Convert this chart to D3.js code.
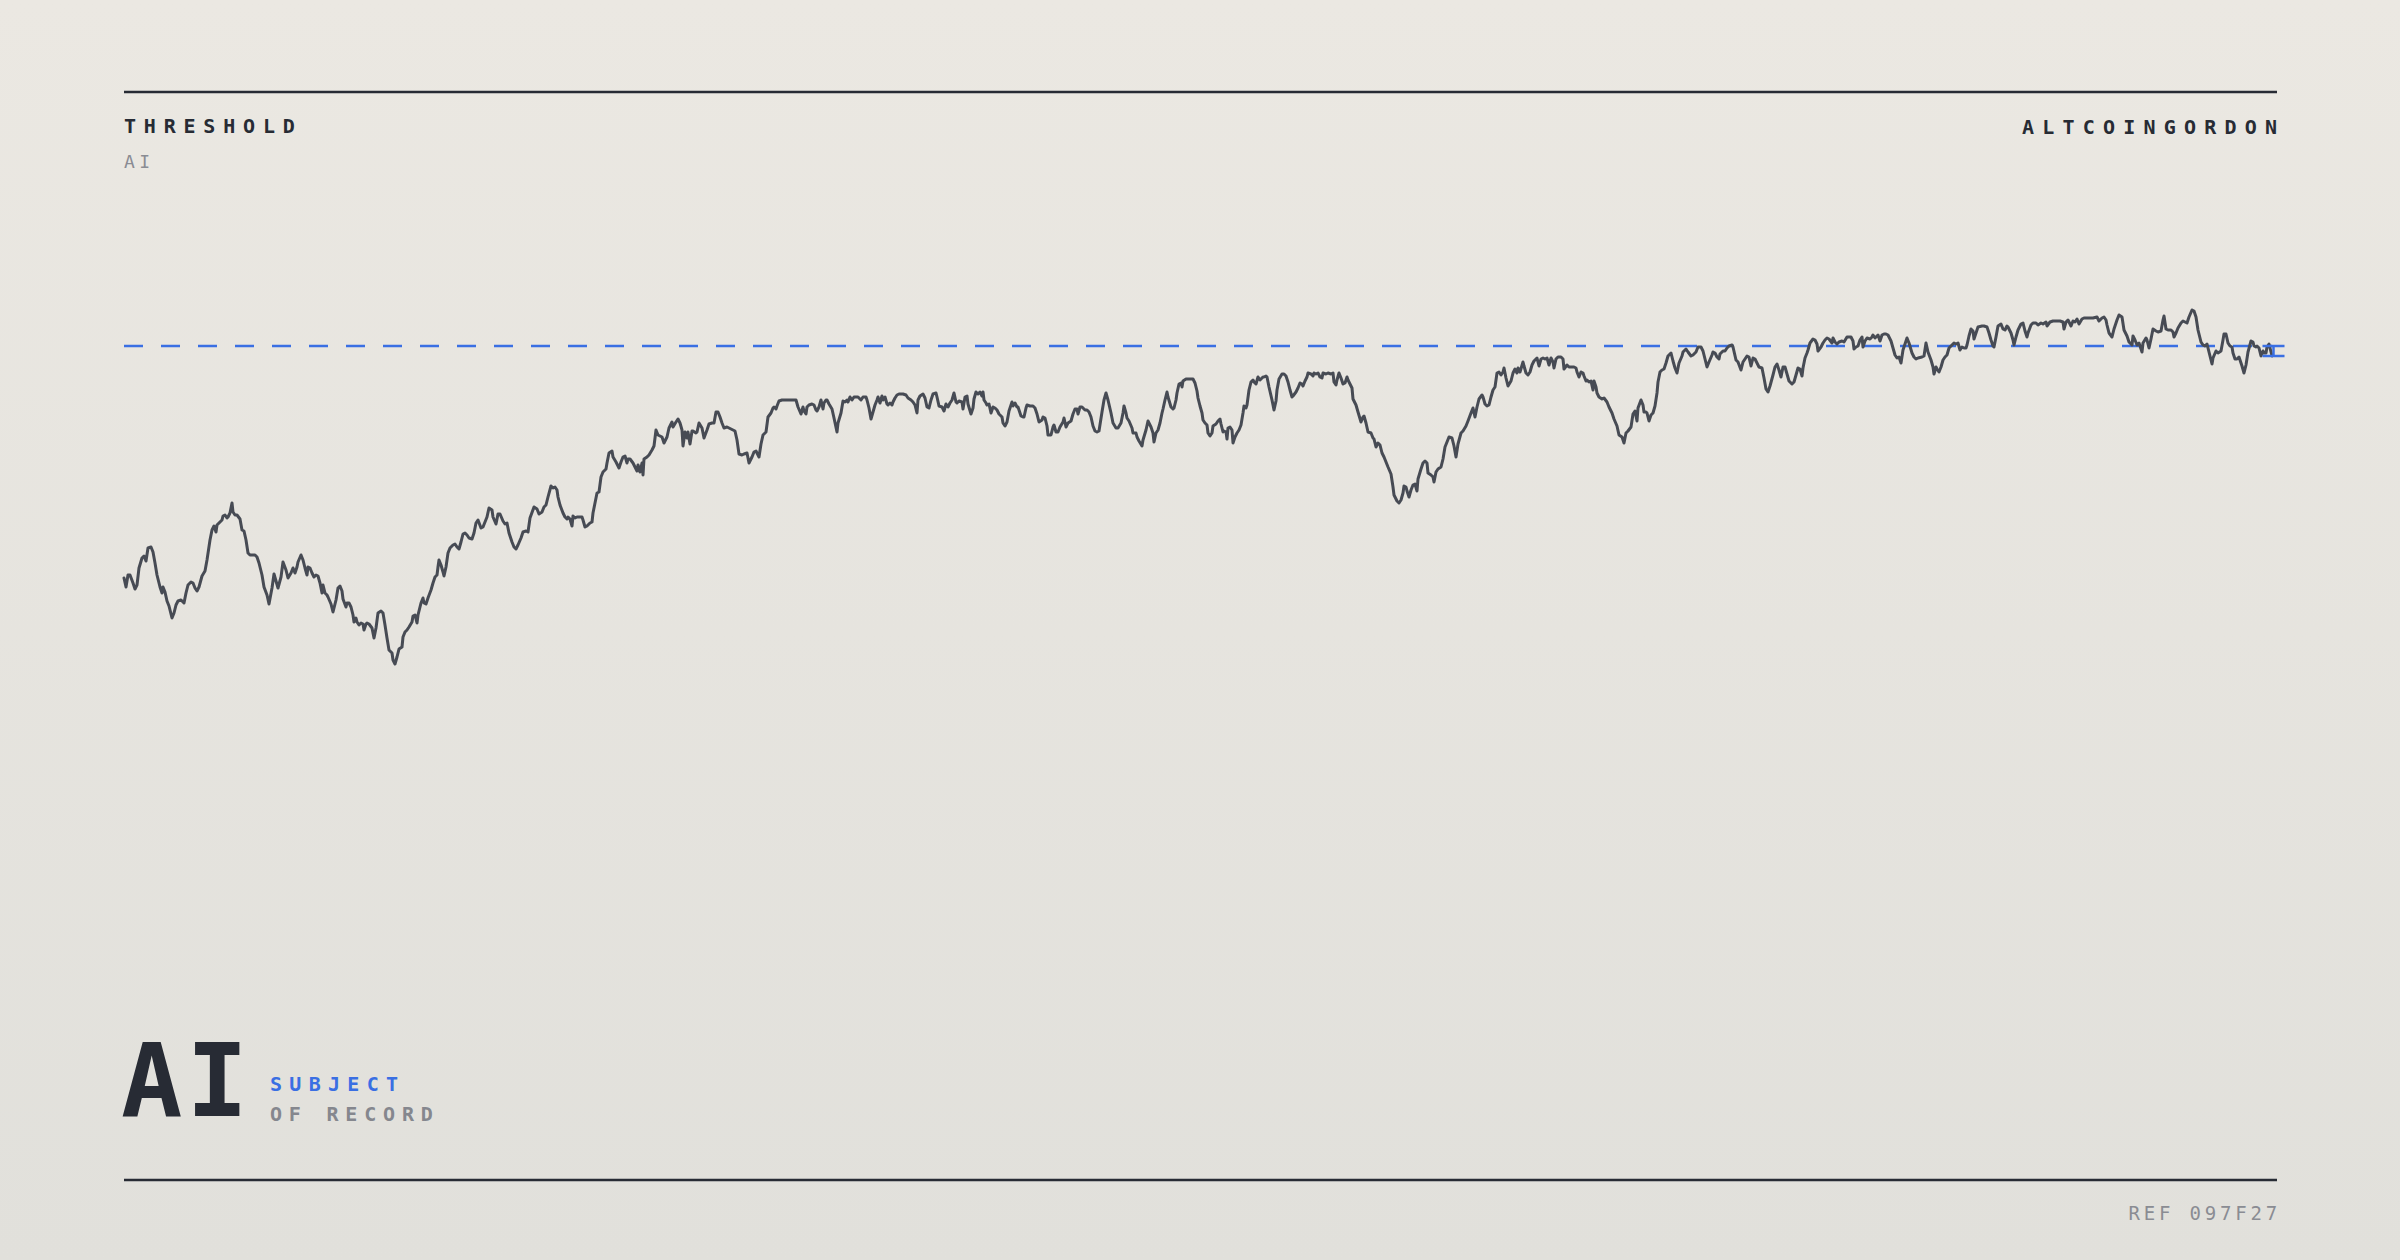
<!DOCTYPE html>
<html>
<head>
<meta charset="utf-8">
<script src="https://cdn.jsdelivr.net/npm/d3@7"></script>
<style>
  html, body { margin: 0; padding: 0; width: 2400px; height: 1260px; overflow: hidden; }
  svg { display: block; }
  text { font-family: "DejaVu Sans Mono", "Liberation Mono", monospace; }
</style>
</head>
<body>
<script>
// ---- data ----
const titleLeft = "THRESHOLD";
const subtitleLeft = "AI";
const titleRight = "ALTCOINGORDON";
const bigLabel = "AI";
const tagLines = ["SUBJECT", "OF RECORD"];
const refLabel = "REF 097F27";
const threshold = 354;
// [session, index value]
const readings = [
[0,122],[2,113],[4,125],[6,125],[9,117],[11,111],[13,115],[15,132],[18,142],[20,144],[22,139],[24,152],[27,153],[29,148],[31,137],[33,125],[36,113],[38,107],[39,113],[41,108],[43,99],[45,94],[48,82],[50,87],[52,95],[54,99],[57,100],[59,98],[60,97],[62,107],[64,115],[67,118],[69,117],[71,112],[73,109],[75,113],[78,124],[81,129],[83,140],[86,160],[88,170],[90,174],[92,168],[93,175],[96,178],[98,180],[99,184],[101,185],[103,182],[104,183],[106,187],[108,197],[109,188],[111,185],[113,185],[116,181],[118,170],[120,169],[122,160],[124,147],[126,145],[129,145],[131,145],[133,143],[135,137],[138,125],[140,113],[143,105],[145,96],[148,112],[150,126],[152,119],[154,112],[157,123],[159,138],[162,130],[164,122],[167,127],[169,132],[171,127],[173,133],[174,138],[177,145],[179,140],[181,132],[183,125],[184,133],[186,132],[188,127],[190,123],[192,125],[194,124],[196,117],[198,107],[199,115],[201,107],[203,105],[204,103],[207,96],[209,88],[212,100],[214,112],[216,114],[218,109],[219,101],[222,93],[223,97],[225,97],[227,93],[229,85],[230,78],[232,82],[233,78],[235,75],[237,77],[239,76],[240,70],[242,76],[243,77],[245,76],[248,72],[250,62],[252,72],[254,87],[257,89],[259,87],[261,75],[263,62],[265,50],[268,47],[269,40],[271,36],[273,43],[275,51],[278,53],[279,63],[281,68],[283,70],[285,73],[288,78],[289,84],[291,85],[293,77],[294,85],[297,97],[299,102],[300,97],[302,96],[304,102],[307,110],[309,117],[311,123],[313,125],[314,133],[315,140],[317,135],[319,128],[320,124],[322,133],[324,147],[326,152],[329,155],[331,156],[333,153],[335,151],[337,158],[339,166],[341,167],[343,165],[345,162],[348,161],[350,167],[352,177],[354,180],[357,172],[359,173],[361,178],[363,183],[365,192],[368,190],[369,183],[372,176],[374,186],[376,186],[379,179],[381,176],[383,177],[385,167],[388,158],[390,153],[392,151],[394,155],[397,162],[399,168],[402,169],[404,168],[406,182],
[410,193],[413,191],[415,186],[418,188],[420,193],[422,195],[424,203],[427,214],[429,212],[431,213],[433,210],[434,203],[436,195],[439,187],[441,183],[443,181],[444,183],[446,181],[448,174],[449,184],[451,182],[453,183],[456,183],[458,183],[459,180],[461,173],[463,174],[466,177],[468,178],[469,187],[471,197],[473,207],[475,208],[477,223],[479,228],[482,231],[483,237],[485,247],[488,249],[489,243],[492,238],[495,232],[497,238],[499,243],[501,244],[503,237],[504,241],[506,241],[509,237],[511,233],[513,229],[514,235],[516,228],[518,237],[519,225],[520,241],[523,243],[525,245],[528,250],[530,254],[532,270],[534,265],[538,263],[540,257],[543,263],[545,272],[548,278],[549,273],[552,278],[554,281],[556,277],[558,270],[559,254],[561,268],[563,262],[564,268],[566,256],[568,269],[569,269],[572,267],[573,268],[575,277],[578,272],[580,262],[583,270],[585,276],[588,277],[590,277],[592,288],[594,288],[596,283],[598,277],[600,272],[603,273],[605,272],[609,270],[611,269],[613,260],[615,246],[618,245],[620,246],[623,247],[625,237],[628,243],[630,248],[632,249],[633,247],[635,243],[637,256],[639,265],[642,268],[644,283],[647,287],[649,292],[650,293],[652,291],[653,294],[655,299],[658,300],[663,300],[668,300],[672,300],[674,293],[677,286],[679,293],[680,289],[682,286],[683,293],[685,295],[688,296],[690,295],[692,290],[693,289],[695,293],[697,300],[699,291],[700,297],[702,300],[703,300],[705,296],[708,291],[710,282],[713,268],[714,277],[717,287],[719,299],[721,298],[723,300],[724,298],[726,303],[728,300],[730,303],[734,303],[737,300],[739,303],[742,303],[743,300],[745,292],[747,281],[749,288],[751,295],[753,300],[754,303],[756,297],[758,304],[759,300],[761,303],[763,296],[764,295],[766,297],[768,295],[769,298],[771,302],[773,305],[775,306],[779,306],[782,305],[784,302],[787,300],[789,298],[791,295],[793,287],[794,300],[796,304],
[799,306],[801,302],[803,293],[805,292],[807,300],[809,306],[812,307],[813,303],[815,294],[818,293],[820,289],[822,296],[824,293],[826,297],[828,300],[830,307],[832,298],[833,297],[835,299],[838,298],[839,291],[841,303],[843,304],[844,296],[847,286],[849,292],[850,301],[852,308],[854,306],[856,308],[858,304],[859,308],[860,300],[862,297],[863,295],[865,296],[867,287],[869,293],[871,292],[873,290],[875,286],[878,283],[879,277],[881,274],[883,278],[885,289],[888,298],[889,294],[891,297],[893,293],[894,293],[897,284],[899,283],[900,283],[902,292],[903,295],[906,294],[909,294],[911,292],[913,286],[915,278],[918,280],[919,283],[921,282],[923,274],[924,265],[927,265],[929,273],[930,275],[932,268],[934,268],[936,273],[939,278],[940,282],[942,273],[944,277],[947,279],[949,286],[951,291],[953,291],[954,286],[956,293],[958,293],[959,292],[961,290],[963,290],[965,288],[967,283],[969,274],[971,269],[973,268],[975,269],[978,288],[980,300],[982,307],[984,300],[987,287],[989,277],[992,272],[994,272],[997,277],[999,287],[1000,294],[1002,287],[1003,282],[1005,279],[1008,272],[1009,267],[1012,267],[1013,263],[1015,259],[1018,254],[1019,260],[1022,270],[1024,279],[1027,273],[1029,267],[1030,258],[1032,267],[1034,270],[1036,277],[1038,287],[1039,291],[1041,300],[1043,308],[1044,303],[1047,293],[1049,291],[1050,292],[1052,300],[1053,307],[1055,316],[1057,317],[1058,313],[1059,319],[1062,321],[1066,321],[1069,321],[1071,317],[1073,309],[1074,302],[1076,294],[1078,287],[1079,280],[1081,277],[1083,275],[1084,267],[1086,264],[1088,267],[1089,274],[1092,276],[1094,279],[1096,281],[1097,276],[1099,268],[1100,269],[1102,268],[1103,261],[1104,272],[1106,273],[1108,270],[1109,257],[1111,263],[1113,267],[1115,270],[1117,275],[1119,287],[1120,294],[1122,292],[1123,295],[1125,310],[1127,318],[1129,320],[1130,318],[1132,316],[1134,323],[1136,320],[1139,323],[1140,323],[1142,324],[1143,323],[1145,313],[1148,300],[1150,290],[1152,299],[1153,310],[1155,321],[1158,326],[1160,326],[1162,324],[1164,318],[1166,310],[1168,303],[1169,304],[1172,308],[1174,312],[1176,317],[1178,316],[1179,314],[1181,319],[1183,323],[1184,327],[1187,326],[1189,324],[1190,327],[1192,326],[1194,327],[1196,323],
[1198,322],[1199,327],[1202,326],[1204,327],[1207,326],[1209,327],[1210,318],[1212,315],[1213,320],[1215,327],[1217,322],[1219,316],[1221,317],[1223,323],[1224,320],[1226,316],[1228,312],[1229,301],[1232,295],[1234,288],[1237,278],[1239,283],[1240,284],[1242,277],[1244,268],[1247,267],[1249,262],[1250,261],[1252,253],[1254,257],[1256,255],[1258,247],[1260,243],[1262,238],[1264,233],[1267,226],[1269,213],[1270,205],[1273,199],[1275,197],[1277,200],[1279,207],[1280,214],[1282,213],[1283,209],[1285,203],[1287,210],[1289,215],[1291,216],[1293,209],[1294,221],[1297,231],[1299,237],[1301,239],[1303,237],[1304,227],[1307,225],[1309,223],[1310,218],[1312,228],[1314,231],[1317,233],[1319,241],[1321,253],[1323,258],[1325,263],[1328,262],[1330,254],[1332,243],[1334,256],[1337,267],[1339,269],[1342,274],[1344,279],[1347,287],[1349,292],[1351,283],[1353,293],[1355,301],[1358,305],[1359,303],[1361,296],[1363,294],[1365,295],[1367,303],[1369,310],[1371,313],[1373,327],[1375,328],[1377,325],[1379,328],[1380,332],[1382,322],[1384,314],[1387,319],[1389,327],[1391,331],[1393,327],[1394,332],[1396,328],[1399,338],[1400,334],[1402,327],[1404,325],[1406,328],[1408,335],[1410,339],[1413,342],[1415,334],[1417,341],[1419,342],[1421,341],[1423,342],[1425,335],[1427,342],[1429,338],[1430,332],[1432,341],[1434,343],[1437,343],[1439,341],[1440,331],[1443,335],[1445,333],[1448,333],[1450,333],[1452,332],[1453,328],[1455,323],[1457,328],[1459,327],[1460,324],[1462,319],[1463,320],[1465,318],[1467,319],[1469,310],[1470,319],[1472,313],[1473,307],[1475,303],[1478,301],[1480,302],[1483,298],[1485,293],[1488,287],[1490,281],[1493,274],[1495,265],[1498,263],[1500,257],[1502,267],[1504,269],[1507,273],[1509,286],[1511,289],[1513,279],[1514,292],[1517,300],[1519,295],[1520,288],[1522,288],[1523,287],[1525,279],[1527,285],[1529,287],[1531,294],[1533,307],[1534,318],[1536,328],[1538,330],[1540,331],[1542,337],[1544,344],[1547,347],[1549,339],[1551,332],[1553,327],[1555,337],[1558,344],[1559,348],[1562,351],[1564,348],[1567,344],[1569,345],[1572,348],[1574,353],[1577,353],[1579,349],[1581,341],[1583,333],[1585,338],[1588,345],[1589,348],[1591,347],[1593,343],[1595,341],
[1596,346],[1599,349],[1601,349],[1603,352],[1605,354],[1608,355],[1609,353],[1612,340],[1614,338],[1617,330],[1619,338],[1621,341],[1623,344],[1625,343],[1627,334],[1629,342],[1631,341],[1633,337],[1635,333],[1638,332],[1640,322],[1642,311],[1644,308],[1646,314],[1649,325],[1651,333],[1653,336],[1655,330],[1657,323],[1659,333],[1661,333],[1663,326],[1665,319],[1668,316],[1670,318],[1672,325],[1674,332],[1676,331],[1678,324],[1679,332],[1681,342],[1683,347],[1684,350],[1686,357],[1689,361],[1691,360],[1693,356],[1694,349],[1697,353],[1699,357],[1701,360],[1703,362],[1705,361],[1708,357],[1709,362],[1711,358],[1713,356],[1715,358],[1718,359],[1720,358],[1723,363],[1724,363],[1727,363],[1729,359],[1730,351],[1732,353],[1734,354],[1736,360],[1738,363],[1739,353],[1741,359],[1743,362],[1746,361],[1748,363],[1749,365],[1751,362],[1753,364],[1754,365],[1756,359],[1758,365],[1760,366],[1762,366],[1764,365],[1767,359],[1769,352],[1771,345],[1773,342],[1775,343],[1777,337],[1779,350],[1781,356],[1783,362],[1785,357],[1788,347],[1790,343],[1792,341],[1794,342],[1798,343],[1800,344],[1802,357],[1804,348],[1807,340],[1809,333],[1810,326],[1812,333],[1813,331],[1815,328],[1817,333],[1819,340],[1821,343],[1823,345],[1825,352],[1828,355],[1830,357],[1832,356],[1834,357],[1836,350],[1838,353],[1840,352],[1842,352],[1843,355],[1845,364],[1847,371],[1849,369],[1850,361],[1852,367],[1854,373],[1858,374],[1860,374],[1863,373],[1865,367],[1867,360],[1869,354],[1870,353],[1872,363],[1874,374],[1877,376],[1879,371],[1881,370],[1883,374],[1884,373],[1887,367],[1889,360],[1890,355],[1892,363],[1894,370],[1897,376],[1899,377],[1901,369],[1903,363],[1904,367],[1907,375],[1909,377],[1912,377],[1914,375],[1917,377],[1919,376],[1922,378],[1923,374],[1926,378],[1929,379],[1932,379],[1936,379],[1939,378],[1940,371],[1942,378],[1944,380],[1947,374],[1949,379],[1951,378],[1953,381],[1955,376],[1958,381],[1960,382],[1964,382],[1969,382],[1973,383],[1975,379],[1978,382],[1980,383],[1982,380],[1983,375],[1985,367],[1988,363],[1990,371],[1993,380],[1995,385],
[1998,383],[2000,370],[2003,364],[2005,358],[2008,355],[2009,364],[2011,360],[2013,355],[2015,357],[2018,348],[2019,357],[2022,362],[2023,360],[2025,352],[2027,361],[2029,371],[2032,369],[2034,368],[2037,369],[2039,380],[2040,384],[2042,371],[2044,370],[2047,370],[2049,368],[2050,363],[2052,367],[2054,372],[2057,377],[2059,379],[2061,378],[2063,377],[2065,383],[2068,390],[2070,389],[2072,383],[2074,370],[2077,358],[2079,355],[2081,354],[2083,356],[2085,348],[2088,336],[2089,342],[2092,349],[2094,347],[2097,349],[2099,360],[2100,366],[2102,366],[2104,357],[2106,354],[2108,353],[2109,347],[2111,341],[2113,341],[2115,343],[2118,334],[2120,327],[2122,335],[2124,348],[2127,359],[2129,358],[2130,354],[2132,353],[2133,354],[2135,352],[2137,344],[2139,349],[2140,347],[2142,347],[2143,353],[2145,356],[2147,348],[2148,344]
];

// ---- drawing ----
const W = 2400, H = 1260;
const INK = "#272b34", LINE = "#474b54", BLUE = "#3a6fe3", GREY = "#8a8c93";
const svg = d3.select("body").append("svg").attr("width", W).attr("height", H);

const defs = svg.append("defs");
const grad = defs.append("linearGradient").attr("id", "bg").attr("x1", 0).attr("y1", 0).attr("x2", 0).attr("y2", 1);
grad.append("stop").attr("offset", "0%").attr("stop-color", "#ebe8e2");
grad.append("stop").attr("offset", "100%").attr("stop-color", "#e1e0db");
svg.append("rect").attr("width", W).attr("height", H).attr("fill", "url(#bg)");

const left = 124, right = 2277;
const x = d3.scaleLinear().domain(d3.extent(readings, d => d[0])).range([124, 2272]);
const y = d3.scaleLinear().domain([0, 400]).range([700, 300]);

// rules
svg.append("line").attr("x1", left).attr("x2", right).attr("y1", 92).attr("y2", 92)
  .attr("stroke", INK).attr("stroke-width", 2.6);
svg.append("line").attr("x1", left).attr("x2", right).attr("y1", 1180).attr("y2", 1180)
  .attr("stroke", INK).attr("stroke-width", 2.6);

// header texts
svg.append("text").attr("x", left).attr("y", 133).text(titleLeft)
  .attr("font-size", 20).attr("font-weight", 700).attr("letter-spacing", 7.8).attr("fill", INK);
svg.append("text").attr("x", left).attr("y", 168).text(subtitleLeft)
  .attr("font-size", 18).attr("letter-spacing", 4.5).attr("fill", GREY);
svg.append("text").attr("x", right + 8.2).attr("y", 134).attr("text-anchor", "end").text(titleRight)
  .attr("font-size", 20).attr("font-weight", 700).attr("letter-spacing", 8.2).attr("fill", INK);

// threshold dashed line
svg.append("line").attr("x1", left).attr("x2", x(readings[readings.length - 1][0]))
  .attr("y1", y(threshold)).attr("y2", y(threshold))
  .attr("stroke", BLUE).attr("stroke-width", 2.6).attr("stroke-dasharray", "19 18");

// series line
const line = d3.line().x(d => x(d[0])).y(d => y(d[1])).curve(d3.curveLinear);
svg.append("path").datum(readings).attr("d", line)
  .attr("fill", "none").attr("stroke", LINE).attr("stroke-width", 3)
  .attr("stroke-linejoin", "round").attr("stroke-linecap", "round");

// end marker: gap between last reading and threshold
const last = readings[readings.length - 1];
const mx = x(last[0]) + 1.5;
const mk = svg.append("g").attr("stroke", BLUE).attr("stroke-width", 2.5);
mk.append("line").attr("x1", mx - 11).attr("x2", mx + 11).attr("y1", y(threshold)).attr("y2", y(threshold));
mk.append("line").attr("x1", mx - 11).attr("x2", mx + 11).attr("y1", y(last[1])).attr("y2", y(last[1]));
mk.append("line").attr("x1", mx).attr("x2", mx).attr("y1", y(threshold)).attr("y2", y(last[1]));

// footer block
svg.append("text").attr("x", 121).attr("y", 1116).text(bigLabel)
  .attr("font-size", 102).attr("font-weight", 700).attr("letter-spacing", 4).attr("fill", INK);
svg.append("text").attr("x", 270).attr("y", 1091).text(tagLines[0])
  .attr("font-size", 20).attr("font-weight", 700).attr("letter-spacing", 7.3).attr("fill", BLUE);
svg.append("text").attr("x", 270).attr("y", 1121).text(tagLines[1])
  .attr("font-size", 20).attr("font-weight", 700).attr("letter-spacing", 6.8).attr("fill", "#85878e");
svg.append("text").attr("x", right + 4).attr("y", 1220).attr("text-anchor", "end").text(refLabel)
  .attr("font-size", 19).attr("letter-spacing", 3.8).attr("fill", GREY);
</script>
</body>
</html>
